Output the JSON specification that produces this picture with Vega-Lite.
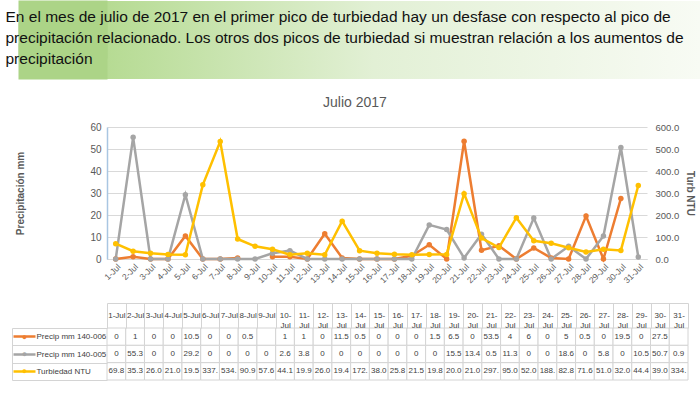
{
 "$schema": "https://vega.github.io/schema/vega-lite/v6.json",
 "padding": 0,
 "background": "white",
 "spacing": 17,
 "config": {"view": {"stroke": null}, "font": "Liberation Sans"},
 "datasets": {
  "header": [
   {"line": "En el mes de julio de 2017 en el primer pico de turbiedad hay un desfase con respecto al pico de"},
   {"line": "precipitación relacionado. Los otros dos picos de turbiedad si muestran relación a los aumentos de"},
   {"line": "precipitación"}
  ],
  "main": [
   {"date":"1-Jul","series":"Precip mm 140-006","value":0,"label":"0"},
   {"date":"2-Jul","series":"Precip mm 140-006","value":1,"label":"1"},
   {"date":"3-Jul","series":"Precip mm 140-006","value":0,"label":"0"},
   {"date":"4-Jul","series":"Precip mm 140-006","value":0,"label":"0"},
   {"date":"5-Jul","series":"Precip mm 140-006","value":10.5,"label":"10.5"},
   {"date":"6-Jul","series":"Precip mm 140-006","value":0,"label":"0"},
   {"date":"7-Jul","series":"Precip mm 140-006","value":0,"label":"0"},
   {"date":"8-Jul","series":"Precip mm 140-006","value":0.5,"label":"0.5"},
   {"date":"9-Jul","series":"Precip mm 140-006","value":null,"label":""},
   {"date":"10-Jul","series":"Precip mm 140-006","value":1,"label":"1"},
   {"date":"11-Jul","series":"Precip mm 140-006","value":1,"label":"1"},
   {"date":"12-Jul","series":"Precip mm 140-006","value":0,"label":"0"},
   {"date":"13-Jul","series":"Precip mm 140-006","value":11.5,"label":"11.5"},
   {"date":"14-Jul","series":"Precip mm 140-006","value":0.5,"label":"0.5"},
   {"date":"15-Jul","series":"Precip mm 140-006","value":0,"label":"0"},
   {"date":"16-Jul","series":"Precip mm 140-006","value":0,"label":"0"},
   {"date":"17-Jul","series":"Precip mm 140-006","value":0,"label":"0"},
   {"date":"18-Jul","series":"Precip mm 140-006","value":1.5,"label":"1.5"},
   {"date":"19-Jul","series":"Precip mm 140-006","value":6.5,"label":"6.5"},
   {"date":"20-Jul","series":"Precip mm 140-006","value":0,"label":"0"},
   {"date":"21-Jul","series":"Precip mm 140-006","value":53.5,"label":"53.5"},
   {"date":"22-Jul","series":"Precip mm 140-006","value":4,"label":"4"},
   {"date":"23-Jul","series":"Precip mm 140-006","value":6,"label":"6"},
   {"date":"24-Jul","series":"Precip mm 140-006","value":0,"label":"0"},
   {"date":"25-Jul","series":"Precip mm 140-006","value":5,"label":"5"},
   {"date":"26-Jul","series":"Precip mm 140-006","value":0.5,"label":"0.5"},
   {"date":"27-Jul","series":"Precip mm 140-006","value":0,"label":"0"},
   {"date":"28-Jul","series":"Precip mm 140-006","value":19.5,"label":"19.5"},
   {"date":"29-Jul","series":"Precip mm 140-006","value":0,"label":"0"},
   {"date":"30-Jul","series":"Precip mm 140-006","value":27.5,"label":"27.5"},
   {"date":"31-Jul","series":"Precip mm 140-006","value":null,"label":""},
   {"date":"1-Jul","series":"Precip mm 140-005","value":0,"label":"0"},
   {"date":"2-Jul","series":"Precip mm 140-005","value":55.3,"label":"55.3"},
   {"date":"3-Jul","series":"Precip mm 140-005","value":0,"label":"0"},
   {"date":"4-Jul","series":"Precip mm 140-005","value":0,"label":"0"},
   {"date":"5-Jul","series":"Precip mm 140-005","value":29.2,"label":"29.2"},
   {"date":"6-Jul","series":"Precip mm 140-005","value":0,"label":"0"},
   {"date":"7-Jul","series":"Precip mm 140-005","value":0,"label":"0"},
   {"date":"8-Jul","series":"Precip mm 140-005","value":0,"label":"0"},
   {"date":"9-Jul","series":"Precip mm 140-005","value":0,"label":"0"},
   {"date":"10-Jul","series":"Precip mm 140-005","value":2.6,"label":"2.6"},
   {"date":"11-Jul","series":"Precip mm 140-005","value":3.8,"label":"3.8"},
   {"date":"12-Jul","series":"Precip mm 140-005","value":0,"label":"0"},
   {"date":"13-Jul","series":"Precip mm 140-005","value":0,"label":"0"},
   {"date":"14-Jul","series":"Precip mm 140-005","value":0,"label":"0"},
   {"date":"15-Jul","series":"Precip mm 140-005","value":0,"label":"0"},
   {"date":"16-Jul","series":"Precip mm 140-005","value":0,"label":"0"},
   {"date":"17-Jul","series":"Precip mm 140-005","value":0,"label":"0"},
   {"date":"18-Jul","series":"Precip mm 140-005","value":0,"label":"0"},
   {"date":"19-Jul","series":"Precip mm 140-005","value":15.5,"label":"15.5"},
   {"date":"20-Jul","series":"Precip mm 140-005","value":13.4,"label":"13.4"},
   {"date":"21-Jul","series":"Precip mm 140-005","value":0.5,"label":"0.5"},
   {"date":"22-Jul","series":"Precip mm 140-005","value":11.3,"label":"11.3"},
   {"date":"23-Jul","series":"Precip mm 140-005","value":0,"label":"0"},
   {"date":"24-Jul","series":"Precip mm 140-005","value":0,"label":"0"},
   {"date":"25-Jul","series":"Precip mm 140-005","value":18.6,"label":"18.6"},
   {"date":"26-Jul","series":"Precip mm 140-005","value":0,"label":"0"},
   {"date":"27-Jul","series":"Precip mm 140-005","value":5.8,"label":"5.8"},
   {"date":"28-Jul","series":"Precip mm 140-005","value":0,"label":"0"},
   {"date":"29-Jul","series":"Precip mm 140-005","value":10.5,"label":"10.5"},
   {"date":"30-Jul","series":"Precip mm 140-005","value":50.7,"label":"50.7"},
   {"date":"31-Jul","series":"Precip mm 140-005","value":0.9,"label":"0.9"},
   {"date":"1-Jul","series":"Turbiedad NTU","value":69.8,"label":"69.8"},
   {"date":"2-Jul","series":"Turbiedad NTU","value":35.3,"label":"35.3"},
   {"date":"3-Jul","series":"Turbiedad NTU","value":26.0,"label":"26.0"},
   {"date":"4-Jul","series":"Turbiedad NTU","value":21.0,"label":"21.0"},
   {"date":"5-Jul","series":"Turbiedad NTU","value":19.5,"label":"19.5"},
   {"date":"6-Jul","series":"Turbiedad NTU","value":337,"label":"337."},
   {"date":"7-Jul","series":"Turbiedad NTU","value":534,"label":"534."},
   {"date":"8-Jul","series":"Turbiedad NTU","value":90.9,"label":"90.9"},
   {"date":"9-Jul","series":"Turbiedad NTU","value":57.6,"label":"57.6"},
   {"date":"10-Jul","series":"Turbiedad NTU","value":44.1,"label":"44.1"},
   {"date":"11-Jul","series":"Turbiedad NTU","value":19.9,"label":"19.9"},
   {"date":"12-Jul","series":"Turbiedad NTU","value":26.0,"label":"26.0"},
   {"date":"13-Jul","series":"Turbiedad NTU","value":19.4,"label":"19.4"},
   {"date":"14-Jul","series":"Turbiedad NTU","value":172,"label":"172."},
   {"date":"15-Jul","series":"Turbiedad NTU","value":38.0,"label":"38.0"},
   {"date":"16-Jul","series":"Turbiedad NTU","value":25.8,"label":"25.8"},
   {"date":"17-Jul","series":"Turbiedad NTU","value":21.5,"label":"21.5"},
   {"date":"18-Jul","series":"Turbiedad NTU","value":19.8,"label":"19.8"},
   {"date":"19-Jul","series":"Turbiedad NTU","value":20.0,"label":"20.0"},
   {"date":"20-Jul","series":"Turbiedad NTU","value":21.0,"label":"21.0"},
   {"date":"21-Jul","series":"Turbiedad NTU","value":297,"label":"297."},
   {"date":"22-Jul","series":"Turbiedad NTU","value":95.0,"label":"95.0"},
   {"date":"23-Jul","series":"Turbiedad NTU","value":52.0,"label":"52.0"},
   {"date":"24-Jul","series":"Turbiedad NTU","value":188,"label":"188."},
   {"date":"25-Jul","series":"Turbiedad NTU","value":82.8,"label":"82.8"},
   {"date":"26-Jul","series":"Turbiedad NTU","value":71.6,"label":"71.6"},
   {"date":"27-Jul","series":"Turbiedad NTU","value":51.0,"label":"51.0"},
   {"date":"28-Jul","series":"Turbiedad NTU","value":32.0,"label":"32.0"},
   {"date":"29-Jul","series":"Turbiedad NTU","value":44.4,"label":"44.4"},
   {"date":"30-Jul","series":"Turbiedad NTU","value":39.0,"label":"39.0"},
   {"date":"31-Jul","series":"Turbiedad NTU","value":334,"label":"334."}
  ]
 },
 "vconcat": [
  {
   "width": 593,
   "height": 78,
   "data": {"name": "header"},
   "layer": [
    {
     "mark": {"type": "rect", "color": {"gradient": "linear", "x1": 0, "y1": 0, "x2": 1, "y2": 0, "stops": [{"offset": 0, "color": "#b6db93"}, {"offset": 0.45, "color": "#e2f0d5"}, {"offset": 1, "color": "#f8fbf4"}]}},
     "encoding": {}
    },
    {
     "mark": {"type": "text", "text": ""},
     "encoding": {
      "y": {"field": "line", "type": "nominal", "sort": null,
       "scale": {"type": "band", "paddingInner": 0, "paddingOuter": 0.357, "align": 0.5},
       "axis": {"title": null, "orient": "left", "domain": false,
        "ticks": true, "tickSize": 89, "tickWidth": 36, "tickColor": "#acd487", "tickCap": "butt",
        "labelAlign": "left", "labelBaseline": "middle", "labelPadding": 13, "labelOffset": -2,
        "labelFontSize": 15.5, "labelFont": "Liberation Sans", "labelColor": "#111111", "labelLimit": 0, "zindex": 1}}
     }
    }
   ]
  },
  {
   "width": 540,
   "height": 132,
   "title": {"text": "Julio  2017", "fontSize": 14, "color": "#595959", "fontWeight": "normal", "offset": 12, "anchor": "middle", "frame": "bounds"},
   "data": {"name": "main"},
   "layer": [
    {
     "transform": [{"filter": "datum.series !== 'Turbiedad NTU'"}],
     "mark": {"type": "line", "strokeWidth": 2.5, "point": {"size": 30, "filled": true}},
     "encoding": {
      "x": {"field": "date", "type": "ordinal", "sort": null, "scale": {"type": "point", "padding": 0.5},
       "axis": {"title": null, "labelAngle": -45, "labelFontSize": 8.5, "labelColor": "#595959", "ticks": false, "domainColor": "#d9d9d9", "labelPadding": 3, "labelOverlap": false, "grid": false}},
      "y": {"field": "value", "type": "quantitative", "scale": {"domain": [0, 60]},
       "axis": {"title": "Precipitación mm", "titleFontSize": 10, "titleColor": "#595959", "titleFontWeight": "bold", "values": [0, 10, 20, 30, 40, 50, 60],
        "labelFontSize": 10, "labelColor": "#595959", "ticks": false, "labelPadding": 6, "domainColor": "#a9c6e2", "domainWidth": 1.5,
        "gridColor": "#d9d9d9", "minExtent": 20, "maxExtent": 20, "titlePadding": 62}},
      "color": {"field": "series", "type": "nominal", "scale": {"domain": ["Precip mm 140-006", "Precip mm 140-005", "Turbiedad NTU"], "range": ["#ed7d31", "#a5a5a5", "#ffc000"]}, "legend": null}
     }
    },
    {
     "transform": [{"filter": "datum.series === 'Turbiedad NTU'"}],
     "mark": {"type": "line", "strokeWidth": 2.5, "point": {"size": 30, "filled": true}},
     "encoding": {
      "x": {"field": "date", "type": "ordinal", "sort": null},
      "y": {"field": "value", "type": "quantitative", "scale": {"domain": [0, 600]},
       "axis": {"orient": "right", "title": "Turb NTU", "titleFontSize": 10, "titleColor": "#595959", "titleFontWeight": "bold", "values": [0, 100, 200, 300, 400, 500, 600], "format": ".1f",
        "grid": false, "domain": false, "ticks": false, "labelPadding": 8, "labelFontSize": 9.5, "labelColor": "#595959", "titlePadding": 6}},
      "color": {"field": "series", "type": "nominal", "scale": {"domain": ["Precip mm 140-006", "Precip mm 140-005", "Turbiedad NTU"], "range": ["#ed7d31", "#a5a5a5", "#ffc000"]}, "legend": null}
     }
    }
   ],
   "resolve": {"scale": {"y": "independent"}}
  },
  {
   "width": 581,
   "height": 52,
   "data": {"name": "main"},
   "layer": [
    {
     "mark": {"type": "rect", "fill": "white", "stroke": "#d4d4d4", "strokeWidth": 1},
     "encoding": {
      "x": {"field": "date", "type": "ordinal", "sort": null, "scale": {"paddingInner": 0, "paddingOuter": 0},
       "axis": {"orient": "top", "title": null, "offset": 25, "domainColor": "#d4d4d4", "tickColor": "#d4d4d4", "tickBand": "extent", "tickSize": -25,
        "labelAngle": 0, "labelOverlap": false, "labelExpr": "length(datum.label) > 5 ? [slice(datum.label, 0, 3), slice(datum.label, 3)] : datum.label",
        "labelFontSize": 8, "labelFont": "Liberation Sans", "labelColor": "#404040", "labelBaseline": "middle", "labelPadding": 12.5, "labelLineHeight": 10}},
      "y": {"field": "series", "type": "nominal", "sort": null, "scale": {"paddingInner": 0, "paddingOuter": 0},
       "axis": {"orient": "left", "title": null, "offset": 95, "domain": true, "domainColor": "#d4d4d4", "ticks": true, "tickBand": "extent", "tickSize": -95, "tickColor": "#d4d4d4",
        "labelAlign": "left", "labelBaseline": "middle", "labelPadding": 71, "labelFontSize": 8, "labelFont": "Liberation Sans", "labelColor": "#404040", "labelLimit": 0}}
     }
    },
    {
     "mark": {"type": "text", "fontSize": 8, "color": "#404040", "font": "Liberation Sans"},
     "encoding": {
      "x": {"field": "date", "type": "ordinal", "sort": null},
      "y": {"field": "series", "type": "nominal", "sort": null,
       "axis": {"orient": "left", "title": null, "offset": 72, "domain": false, "ticks": true, "tickSize": 22, "tickWidth": 2.5,
        "tickColor": {"condition": [{"test": "datum.value === 'Precip mm 140-006'", "value": "#ed7d31"}, {"test": "datum.value === 'Precip mm 140-005'", "value": "#a5a5a5"}], "value": "#ffc000"},
        "labelExpr": "'●'", "labelAlign": "center", "labelBaseline": "middle", "labelPadding": -11, "labelFontSize": 9,
        "labelColor": {"condition": [{"test": "datum.value === 'Precip mm 140-006'", "value": "#ed7d31"}, {"test": "datum.value === 'Precip mm 140-005'", "value": "#a5a5a5"}], "value": "#ffc000"}}},
      "text": {"field": "label"}
     }
    }
   ],
   "resolve": {"axis": {"y": "independent"}}
  }
 ]
}
